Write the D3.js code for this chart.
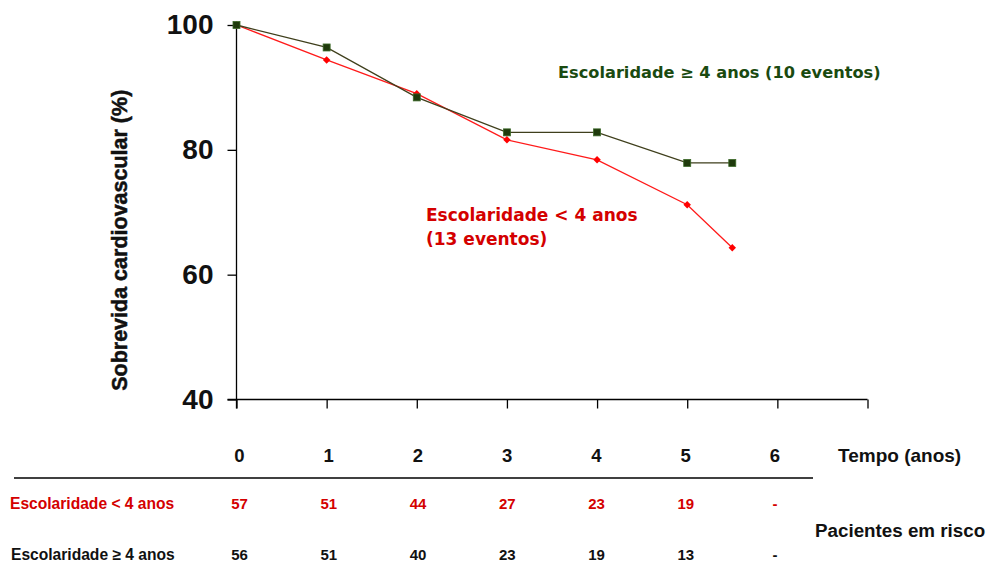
<!DOCTYPE html>
<html>
<head>
<meta charset="utf-8">
<script src="https://cdn.jsdelivr.net/npm/d3@7"></script>
<style>
  html, body { margin: 0; padding: 0; background: #fff; }
  svg { display: block; }
  text { font-family: "Liberation Sans", Arial, sans-serif; font-weight: bold; }
</style>
</head>
<body>
<svg id="chart" width="991" height="576"></svg>
<script>
// Survival curves (Kaplan-Meier style) by schooling level
const years = [0, 1, 2, 3, 4, 5, 5.5];
const survivalHigh = [100, 96.4, 88.4, 82.8, 82.8, 77.9, 77.9]; // Escolaridade ≥ 4 anos
const survivalLow  = [100, 94.4, 89.0, 81.6, 78.4, 71.2, 64.3]; // Escolaridade < 4 anos

const xTicks = [0, 1, 2, 3, 4, 5, 6, 7];
const xTickLabels = ["0", "1", "2", "3", "4", "5", "6"];
const yTicks = [40, 60, 80, 100];

// Patients at risk table
const riskYears = [0, 1, 2, 3, 4, 5, 6];
const riskLow  = ["57", "51", "44", "27", "23", "19", "-"];
const riskHigh = ["56", "51", "40", "23", "19", "13", "-"];

const svg = d3.select("#chart");

const x = d3.scaleLinear().domain([0, 7]).range([236.5, 867.5]);
const y = d3.scaleLinear().domain([40, 100]).range([399.5, 25]);
// columns of the year labels and the at-risk table
const col = d3.scaleLinear().domain([0, 6]).range([239.5, 775]);
const tickLen = 9;

// Y axis
const yAxis = svg.append("g")
  .attr("transform", `translate(${x(0)},0)`)
  .call(d3.axisLeft(y).tickValues(yTicks).tickSize(tickLen).tickSizeOuter(0).tickPadding(14).tickFormat(d3.format("d")));
yAxis.select(".domain").remove();
yAxis.selectAll(".tick line").attr("stroke", "#000").attr("stroke-width", 1.3);
yAxis.selectAll(".tick text")
  .attr("fill", "#111")
  .style("font-size", "28px")
  .style("font-family", "'Liberation Sans', Arial, sans-serif")
  .style("font-weight", "bold");
svg.append("line")
  .attr("x1", x(0)).attr("x2", x(0))
  .attr("y1", y(100)).attr("y2", y(40) + tickLen)
  .attr("stroke", "#000").attr("stroke-width", 1.3);

// X axis
const xAxis = svg.append("g")
  .attr("transform", `translate(0,${y(40)})`)
  .call(d3.axisBottom(x).tickValues(xTicks).tickSize(tickLen).tickSizeOuter(0).tickFormat(""));
xAxis.select(".domain").remove();
xAxis.selectAll(".tick line").attr("stroke", "#000").attr("stroke-width", 1.3);
svg.append("line")
  .attr("x1", x(0) - tickLen).attr("x2", x(7))
  .attr("y1", y(40)).attr("y2", y(40))
  .attr("stroke", "#000").attr("stroke-width", 1.3);

// X tick labels
svg.append("g").selectAll("text")
  .data(xTickLabels)
  .join("text")
  .attr("x", (d, i) => col(i))
  .attr("y", 462)
  .attr("text-anchor", "middle")
  .attr("fill", "#111")
  .style("font-size", "18.5px")
  .text(d => d);

svg.append("text")
  .attr("x", 838).attr("y", 462)
  .attr("fill", "#111")
  .style("font-size", "19px")
  .text("Tempo (anos)");

// Y axis title
svg.append("text")
  .attr("transform", `translate(127,${(y(100) + y(40)) / 2 + 28}) rotate(-90)`)
  .attr("text-anchor", "middle")
  .attr("fill", "#111")
  .attr("stroke", "#111")
  .attr("stroke-width", 0.5)
  .style("font-size", "21.5px")
  .text("Sobrevida cardiovascular (%)");

// Curves
const line = d3.line().x(d => x(d[0])).y(d => y(d[1]));
const highPts = years.map((t, i) => [t, survivalHigh[i]]);
const lowPts = years.map((t, i) => [t, survivalLow[i]]);

svg.append("path")
  .datum(lowPts)
  .attr("d", line)
  .attr("fill", "none")
  .attr("stroke", "#ff1a1a")
  .attr("stroke-width", 1.3);

svg.append("path")
  .datum(highPts)
  .attr("d", line)
  .attr("fill", "none")
  .attr("stroke", "#3f3f1c")
  .attr("stroke-width", 1.3);

// red diamonds: squares turned 45°
svg.append("g").selectAll("path")
  .data(lowPts)
  .join("path")
  .attr("transform", d => `translate(${x(d[0])},${y(d[1])}) rotate(45)`)
  .attr("d", d3.symbol(d3.symbolSquare, 28))
  .attr("fill", "#ff0000");

svg.append("g").selectAll("rect")
  .data(highPts)
  .join("rect")
  .attr("x", d => x(d[0]) - 3.5)
  .attr("y", d => y(d[1]) - 3.5)
  .attr("width", 7).attr("height", 7)
  .attr("fill", "#1f3a0c")
  .attr("stroke", "#3d6b2a")
  .attr("stroke-width", 0.8);

// Curve annotations
const noteFont = "'DejaVu Sans', Verdana, sans-serif";
svg.append("text")
  .attr("x", 558).attr("y", 78)
  .attr("fill", "#1a4a10")
  .style("font-family", noteFont)
  .style("font-size", "16.2px")
  .text("Escolaridade ≥ 4 anos (10 eventos)");

const lowNote = svg.append("text")
  .attr("x", 426).attr("y", 221)
  .attr("fill", "#d40000")
  .style("font-family", noteFont)
  .style("font-size", "17px");
lowNote.append("tspan").attr("x", 426).text("Escolaridade < 4 anos");
lowNote.append("tspan").attr("x", 426).attr("dy", 24).text("(13 eventos)");

// Patients at risk table
svg.append("line")
  .attr("x1", 14).attr("x2", 813)
  .attr("y1", 478).attr("y2", 478)
  .attr("stroke", "#000").attr("stroke-width", 1.5);

svg.append("text")
  .attr("x", 10).attr("y", 509)
  .attr("fill", "#d40000")
  .style("font-size", "15.6px")
  .text("Escolaridade < 4 anos");

svg.append("text")
  .attr("x", 11).attr("y", 560)
  .attr("fill", "#111")
  .style("font-size", "15.6px")
  .text("Escolaridade ≥ 4 anos");

svg.append("g").selectAll("text")
  .data(riskLow)
  .join("text")
  .attr("x", (d, i) => col(riskYears[i]))
  .attr("y", 509)
  .attr("text-anchor", "middle")
  .attr("fill", "#d40000")
  .style("font-size", "15px")
  .text(d => d);

svg.append("g").selectAll("text")
  .data(riskHigh)
  .join("text")
  .attr("x", (d, i) => col(riskYears[i]))
  .attr("y", 560)
  .attr("text-anchor", "middle")
  .attr("fill", "#111")
  .style("font-size", "15px")
  .text(d => d);

svg.append("text")
  .attr("x", 815).attr("y", 537)
  .attr("fill", "#111")
  .style("font-size", "18.8px")
  .text("Pacientes em risco");
</script>
</body>
</html>
